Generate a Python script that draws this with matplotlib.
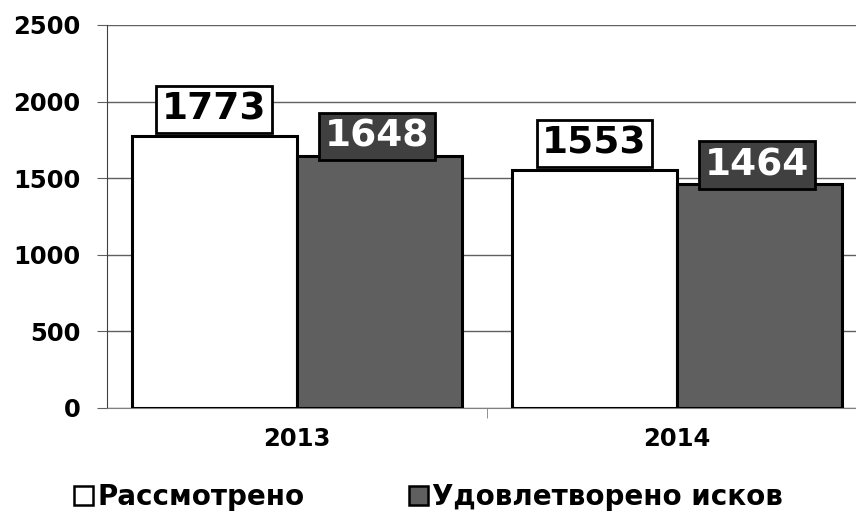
import matplotlib.pyplot as plt
from matplotlib.patches import Patch
import numpy as np

years = ["2013", "2014"]
considered = [1773, 1553]
satisfied = [1648, 1464]
series_names = ["Рассмотрено", "Удовлетворено исков"]

plt.rcParams['font.family'] = 'DejaVu Sans'
plt.rcParams['font.weight'] = 'bold'

fig = plt.figure(figsize=(8.56, 5.13), dpi=100)
ax = fig.add_axes([0.125, 0.2047, 0.888, 0.7466])

x = np.arange(len(years))
w = 0.435
b1 = ax.bar(x - w / 2, considered, w, color="white", edgecolor="black", linewidth=2.2, zorder=3)
b2 = ax.bar(x + w / 2, satisfied, w, color="#5f5f5f", edgecolor="black", linewidth=2.2, zorder=3)

# label boxes: white ones sit just above the bar, dark ones overlap it a bit
for bars, vals, fc, tc, dy, dx in [(b1, considered, "white", "black", 6.2, 0),
                                   (b2, satisfied, "#404040", "white", 0.5, -2)]:
    for r, v in zip(bars, vals):
        ax.annotate(str(v), (r.get_x() + r.get_width() / 2, v), xytext=(dx, dy),
                    textcoords="offset points", ha="center", va="bottom",
                    fontsize=27, fontweight="bold", color=tc, zorder=5,
                    bbox=dict(boxstyle="square,pad=0.15", fc=fc, ec="black", lw=2))

ax.set_xlim(-0.5, 1.5)
ax.set_ylim(0, 2500)
ax.set_yticks(range(0, 2501, 500))
ax.set_xticks(x)
ax.set_xticklabels(years, fontsize=17.5, fontweight="bold")
ax.tick_params(axis="y", labelsize=17.5, length=7, color="#606060", pad=12)
ax.tick_params(axis="x", length=0, pad=14)
ax.set_xticks([0.5], minor=True)
ax.tick_params(axis="x", which="minor", length=7, color="#808080", direction="out")
ax.grid(axis="y", color="#606060", linewidth=1, zorder=0)
for s in ["top", "right"]:
    ax.spines[s].set_visible(False)
ax.spines["left"].set_color("#404040")
ax.spines["bottom"].set_color("#808080")

handles = [Patch(facecolor="white", edgecolor="black", linewidth=1.8),
           Patch(facecolor="#5f5f5f", edgecolor="black", linewidth=1.8)]
fig.legend(handles, series_names, loc="lower left", bbox_to_anchor=(0.086, 0.004),
           ncol=2, frameon=False, handlelength=0.7, handleheight=0.7,
           handletextpad=0.15, columnspacing=3.75, borderpad=0, borderaxespad=0,
           prop={"weight": "bold", "size": 20})

fig.savefig("out.png", dpi=100)
